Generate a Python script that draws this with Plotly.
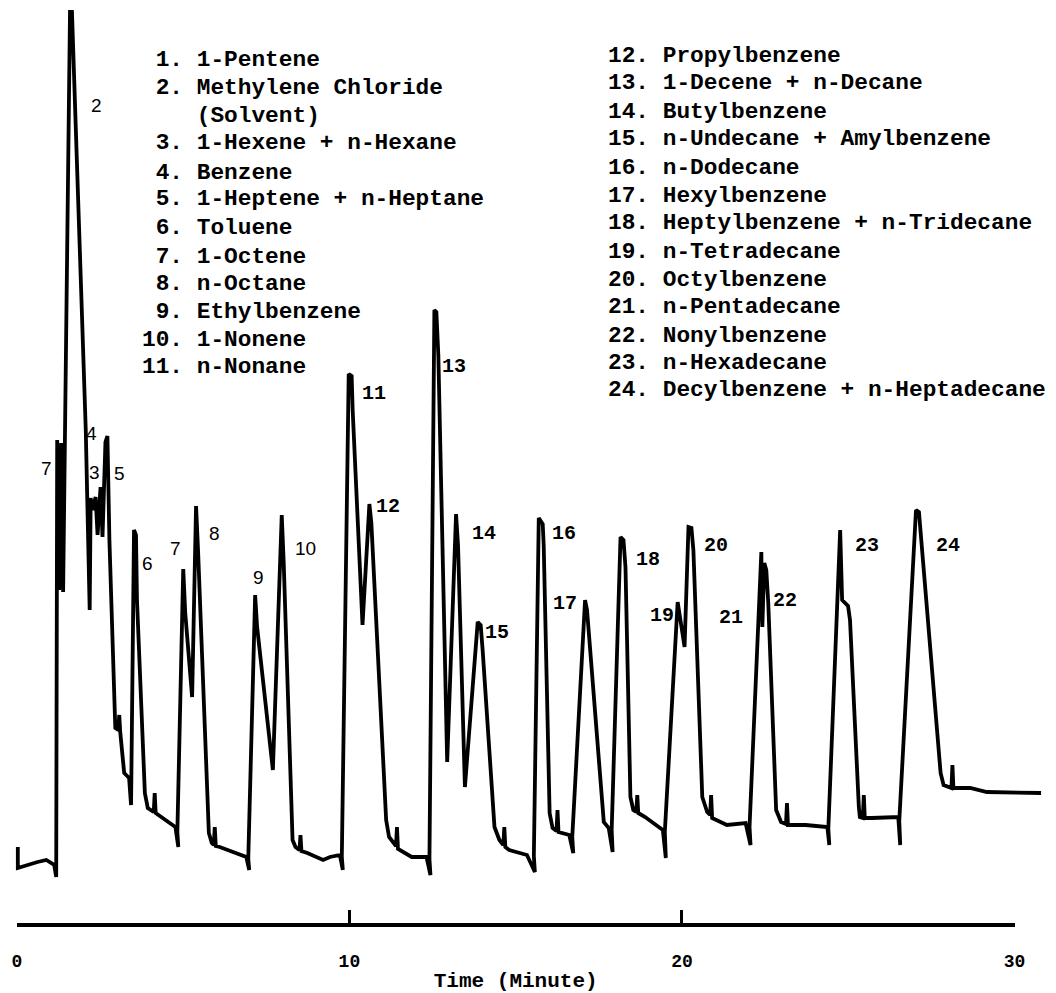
import plotly.graph_objects as go

# ---- chromatogram trace (time in minutes, detector response in arbitrary units) ----
time_min = [
    0.030, 0.030, 0.622, 0.888, 1.125, 1.184, 1.214, 1.273, 1.333, 1.392,
    1.599, 1.658, 2.073, 2.191, 2.221, 2.280, 2.369, 2.428, 2.517, 2.576,
    2.665, 2.724, 2.784, 2.961, 3.050, 3.080, 3.109, 3.228, 3.376, 3.435,
    3.524, 3.583, 3.613, 3.850, 3.938, 4.116, 4.146, 4.175, 4.768, 4.856, 4.827,
    5.004, 5.064, 5.271, 5.389, 5.449, 5.774, 5.863, 5.922, 5.952, 5.982, 6.100, 6.900, 6.988, 6.959,
    7.166, 7.225, 7.699, 7.966, 8.025, 8.291, 8.380, 8.499, 8.528, 8.558, 8.736, 9.209, 9.417, 9.713, 9.802, 9.772,
    9.979, 10.068, 10.098, 10.394, 10.601, 10.660, 11.105, 11.193, 11.401, 11.430, 11.460, 11.874, 12.319, 12.437, 12.407,
    12.555, 12.615, 12.674, 12.940, 13.207, 13.266, 13.473, 13.858, 13.947, 14.006, 14.362, 14.510, 14.628, 14.658, 14.688, 14.806, 15.339, 15.576, 15.546,
    15.694, 15.813, 15.842, 16.020, 16.109, 16.227, 16.257, 16.287, 16.612, 16.731, 16.701,
    17.086, 17.145, 17.649, 17.797, 17.915, 17.886,
    18.152, 18.241, 18.301, 18.449, 18.537, 18.626, 18.656, 18.685, 18.892, 19.425, 19.514, 19.484,
    19.870, 20.077, 20.195, 20.284, 20.343, 20.610, 20.758, 20.847, 20.876, 20.906, 21.350, 21.913, 22.061, 22.031,
    22.386, 22.416, 22.475, 22.535, 22.594, 22.831, 22.979, 23.127, 23.157, 23.186, 23.719, 24.371, 24.430, 24.400,
    24.756, 24.815, 24.993, 25.052, 25.318, 25.348, 25.437, 25.467, 25.496, 25.703, 26.503, 26.562, 26.533,
    27.036, 27.125, 27.776, 27.865, 28.102, 28.132, 28.161, 28.665, 29.168, 30.145, 30.797,
]
response = [
    3.3, 1.2, 1.8, 2.0, 1.5, 0.3, 44.0, 29.0, 43.7, 28.8,
    86.8, 86.8, 45.0, 27.0, 38.2, 37.0, 38.3, 34.5, 39.3, 34.3,
    43.8, 44.4, 34.0, 15.2, 15.0, 16.5, 14.8, 10.7, 10.2, 7.5,
    35.0, 34.5, 28.0, 8.7, 7.2, 6.8, 8.7, 6.7, 5.3, 3.3, 4.8,
    31.1, 26.7, 18.3, 37.4, 33.0, 4.7, 3.7, 3.5, 5.3, 3.4, 3.3, 2.3, 1.0, 2.1,
    28.5, 25.3, 11.0, 36.5, 31.7, 4.0, 3.3, 3.0, 4.5, 2.9, 2.7, 2.0, 2.3, 2.5, 1.0, 2.3,
    50.6, 50.4, 47.0, 25.5, 37.6, 35.7, 6.0, 4.3, 3.4, 5.3, 3.1, 2.3, 2.3, 0.5, 2.1,
    57.0, 56.8, 52.5, 11.8, 36.6, 33.5, 9.3, 25.8, 25.5, 23.0, 5.3, 4.0, 3.5, 5.3, 3.3, 3.0, 2.5, 0.8, 2.4,
    36.2, 35.6, 33.5, 6.7, 5.2, 4.9, 7.0, 4.8, 4.5, 2.7, 4.3,
    28.0, 27.0, 5.8, 5.2, 2.8, 5.0,
    34.3, 34.0, 31.3, 8.3, 7.0, 6.8, 8.5, 6.7, 6.3, 5.0, 2.2, 4.8,
    27.8, 23.3, 35.3, 35.2, 33.0, 8.3, 6.8, 6.5, 8.5, 6.2, 5.5, 5.7, 3.5, 5.3,
    32.8, 25.3, 31.7, 31.0, 27.7, 7.0, 5.8, 5.6, 7.7, 5.5, 5.5, 5.3, 3.5, 5.1,
    35.0, 28.0, 27.4, 26.0, 7.3, 6.3, 6.2, 8.5, 6.2, 6.2, 6.3, 3.5, 5.9,
    37.0, 36.8, 10.7, 9.5, 9.2, 11.5, 9.2, 9.2, 8.8, 8.7, 8.7,
]

# ---- peak numbers ----
peak_labels = ["7", "2", "4", "3", "5", "6", "7", "8", "9", "10",
               "11", "12", "13", "14", "15", "16", "17", "18", "19", "20",
               "21", "22", "23", "24"]
label_time = [0.888, 2.399, 2.251, 2.339, 3.080, 3.938, 4.768, 5.952, 7.255, 8.677,
              10.749, 11.164, 13.148, 14.036, 14.451, 16.464, 16.494, 18.981, 19.396, 21.025,
              21.469, 23.097, 25.555, 28.013]
label_resp = [41.2, 77.5, 44.7, 40.8, 40.7, 31.7, 33.2, 34.7, 30.3, 33.2,
              48.7, 37.4, 51.4, 34.7, 24.8, 34.7, 27.7, 32.1, 26.5, 33.5,
              26.3, 28.0, 33.5, 33.5]

# ---- compound key ----
key_left = [" 1. 1-Pentene", " 2. Methylene Chloride", "    (Solvent)",
            " 3. 1-Hexene + n-Hexane", " 4. Benzene", " 5. 1-Heptene + n-Heptane",
            " 6. Toluene", " 7. 1-Octene", " 8. n-Octane", " 9. Ethylbenzene",
            "10. 1-Nonene", "11. n-Nonane"]
key_right = ["12. Propylbenzene", "13. 1-Decene + n-Decane", "14. Butylbenzene",
             "15. n-Undecane + Amylbenzene", "16. n-Dodecane", "17. Hexylbenzene",
             "18. Heptylbenzene + n-Tridecane", "19. n-Tetradecane", "20. Octylbenzene",
             "21. n-Pentadecane", "22. Nonylbenzene", "23. n-Hexadecane",
             "24. Decylbenzene + n-Heptadecane"]

time_ticks = [0, 10, 20, 30]
time_tick_text = ["0", "10", "20", "30"]

# ---- layout geometry ----
W, H = 1056, 993
PX_PER_MIN = 33.77
X0_PX = 12
AXIS_Y_PX = 923
key_left_x, key_left_rows = 137, [60, 88, 116, 143, 173, 199, 228, 257, 284, 312, 340, 367]
key_right_x, key_right_rows = 610, [56, 83, 112, 139, 168, 196, 223, 252, 280, 307, 336, 363, 390]

MONO = "Liberation Mono, Courier New, monospace"
SANS = "Liberation Sans, Arial, sans-serif"

fig = go.Figure()
fig.add_trace(go.Scatter(x=time_min, y=response, mode="lines",
                         line=dict(color="black", width=3.8),
                         hoverinfo="skip", showlegend=False, cliponaxis=False))
fig.add_trace(go.Scatter(x=[time_ticks[0], time_ticks[-1]], y=[0, 0], xaxis="x2", yaxis="y2",
                         mode="lines", line=dict(width=0), opacity=0,
                         hoverinfo="skip", showlegend=False))

annotations = []
for i, (lab, t, r) in enumerate(zip(peak_labels, label_time, label_resp)):
    sans = i < 10
    annotations.append(dict(
        x=t, y=r, xref="x", yref="y", text=lab, showarrow=False,
        xanchor="center", yanchor="middle",
        font=dict(family=SANS if sans else MONO, size=19 if sans else 20,
                  weight="normal" if sans else "bold", color="black")))

def key_ann(txt, xpx, ypx):
    return dict(x=xpx / W, y=1 - ypx / H, xref="paper", yref="paper",
                text=txt.replace(" ", "\u00a0"), showarrow=False,
                xanchor="left", yanchor="middle",
                font=dict(family=MONO, size=22.8, weight="bold", color="black"))

for txt, yp in zip(key_left, key_left_rows):
    annotations.append(key_ann(txt, key_left_x, yp))
for txt, yp in zip(key_right, key_right_rows):
    annotations.append(key_ann(txt, key_right_x, yp))

x_lo = -X0_PX / PX_PER_MIN
x_hi = (W - X0_PX) / PX_PER_MIN
fig.update_layout(
    width=W, height=H,
    margin=dict(l=0, r=0, t=0, b=0),
    paper_bgcolor="white", plot_bgcolor="rgba(0,0,0,0)",
    showlegend=False,
    xaxis=dict(range=[x_lo, x_hi], visible=False, domain=[0, 1]),
    yaxis=dict(range=[-11.3, 88.0], visible=False, domain=[0, 1]),
    xaxis2=dict(domain=[X0_PX / W, (X0_PX + 30 * PX_PER_MIN) / W], anchor="y2",
                range=[0, 30], tickvals=time_ticks, ticktext=time_tick_text,
                ticks="inside", ticklen=13, tickwidth=2.5, tickcolor="black",
                showline=True, linewidth=4, linecolor="black",
                showgrid=False, zeroline=False, ticklabelstandoff=18,
                tickfont=dict(family=MONO, size=18, weight="bold", color="black"),
                title=dict(text="Time (Minute)", standoff=5,
                           font=dict(family=MONO, size=21, weight="bold", color="black"))),
    yaxis2=dict(domain=[(H - AXIS_Y_PX) / H, (H - AXIS_Y_PX + 2) / H], anchor="x2",
                range=[0, 1], visible=False),
    annotations=annotations,
)

fig.write_html("out.html")
